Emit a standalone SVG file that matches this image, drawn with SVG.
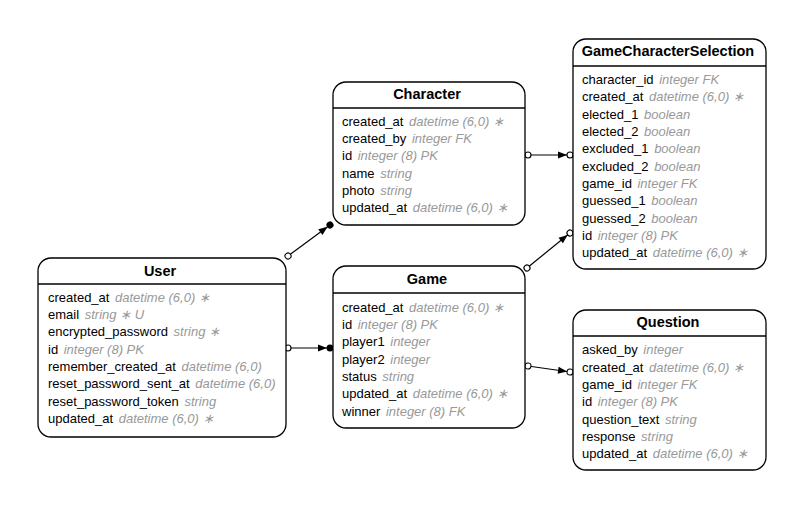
<svg xmlns="http://www.w3.org/2000/svg" width="803" height="510" viewBox="0 0 803 510">
<style>
.box{fill:#fff;stroke:#000;stroke-width:1.3}
.hl{stroke:#000;stroke-width:1.3}
.t{font-family:"Liberation Sans",Arial,sans-serif;font-size:14.5px;font-weight:bold;text-anchor:middle;fill:#000}
.r{font-family:"Liberation Sans",Arial,sans-serif;font-size:13px;fill:#000}
.g{fill:#999;font-style:italic}
.c{fill:none;stroke:#000;stroke-width:1.2}
</style>
<defs>
<marker id="oc" markerUnits="userSpaceOnUse" viewBox="-5 -5 10 10" markerWidth="10" markerHeight="10" refX="0" refY="0" orient="auto">
<circle cx="0" cy="0" r="3" fill="#fff" stroke="#000" stroke-width="1.1"/>
</marker>
<marker id="ad" markerUnits="userSpaceOnUse" viewBox="-14 -5 19 10" markerWidth="19" markerHeight="10" refX="0" refY="0" orient="auto">
<path d="M-12,-3.5 L-3,0 L-12,3.5 Z" fill="#000"/>
<circle cx="0" cy="0" r="3.5" fill="#000"/>
</marker>
<marker id="ac" markerUnits="userSpaceOnUse" viewBox="-14 -5 19 10" markerWidth="19" markerHeight="10" refX="0" refY="0" orient="auto">
<path d="M-12,-3.5 L-3,0 L-12,3.5 Z" fill="#000"/>
<circle cx="0" cy="0" r="3" fill="#fff" stroke="#000" stroke-width="1.1"/>
</marker>
</defs>
<rect width="803" height="510" fill="#fff"/>
<g id="connectors">
<path class="c" d="M288,256 L330,225" marker-start="url(#oc)" marker-end="url(#ad)"/>
<path class="c" d="M288,348 L330,348" marker-start="url(#oc)" marker-end="url(#ad)"/>
<path class="c" d="M528,155 L570,155" marker-start="url(#oc)" marker-end="url(#ac)"/>
<path class="c" d="M527,268 L570,233" marker-start="url(#oc)" marker-end="url(#ac)"/>
<path class="c" d="M528,366 L570,372" marker-start="url(#oc)" marker-end="url(#ac)"/>
</g>
<g id="User">
<rect class="box" x="38" y="258" width="248" height="179" rx="13"/>
<line class="hl" x1="38" y1="284" x2="286" y2="284"/>
<text class="t" x="160" y="276">User</text>
<text class="r" x="48" y="302">created_at <tspan class="g" dx="2">datetime (6,0) ∗</tspan></text>
<text class="r" x="48" y="319">email <tspan class="g" dx="2">string ∗ U</tspan></text>
<text class="r" x="48" y="336">encrypted_password <tspan class="g" dx="2">string ∗</tspan></text>
<text class="r" x="48" y="354">id <tspan class="g" dx="2">integer (8) PK</tspan></text>
<text class="r" x="48" y="371">remember_created_at <tspan class="g" dx="2">datetime (6,0)</tspan></text>
<text class="r" x="48" y="388">reset_password_sent_at <tspan class="g" dx="2">datetime (6,0)</tspan></text>
<text class="r" x="48" y="406">reset_password_token <tspan class="g" dx="2">string</tspan></text>
<text class="r" x="48" y="423">updated_at <tspan class="g" dx="2">datetime (6,0) ∗</tspan></text>
</g>
<g id="Character">
<rect class="box" x="333" y="82" width="192" height="143" rx="13"/>
<line class="hl" x1="333" y1="108" x2="525" y2="108"/>
<text class="t" x="427" y="99">Character</text>
<text class="r" x="342" y="126">created_at <tspan class="g" dx="2">datetime (6,0) ∗</tspan></text>
<text class="r" x="342" y="143">created_by <tspan class="g" dx="2">integer FK</tspan></text>
<text class="r" x="342" y="160">id <tspan class="g" dx="2">integer (8) PK</tspan></text>
<text class="r" x="342" y="178">name <tspan class="g" dx="2">string</tspan></text>
<text class="r" x="342" y="195">photo <tspan class="g" dx="2">string</tspan></text>
<text class="r" x="342" y="212">updated_at <tspan class="g" dx="2">datetime (6,0) ∗</tspan></text>
</g>
<g id="Game">
<rect class="box" x="333" y="266" width="192" height="162" rx="13"/>
<line class="hl" x1="333" y1="293" x2="525" y2="293"/>
<text class="t" x="427" y="284">Game</text>
<text class="r" x="342" y="312">created_at <tspan class="g" dx="2">datetime (6,0) ∗</tspan></text>
<text class="r" x="342" y="329">id <tspan class="g" dx="2">integer (8) PK</tspan></text>
<text class="r" x="342" y="346">player1 <tspan class="g" dx="2">integer</tspan></text>
<text class="r" x="342" y="364">player2 <tspan class="g" dx="2">integer</tspan></text>
<text class="r" x="342" y="381">status <tspan class="g" dx="2">string</tspan></text>
<text class="r" x="342" y="398">updated_at <tspan class="g" dx="2">datetime (6,0) ∗</tspan></text>
<text class="r" x="342" y="416">winner <tspan class="g" dx="2">integer (8) FK</tspan></text>
</g>
<g id="GameCharacterSelection">
<rect class="box" x="573" y="39" width="193" height="230" rx="13"/>
<line class="hl" x1="573" y1="66" x2="766" y2="66"/>
<text class="t" x="668" y="56">GameCharacterSelection</text>
<text class="r" x="582" y="84">character_id <tspan class="g" dx="2">integer FK</tspan></text>
<text class="r" x="582" y="101">created_at <tspan class="g" dx="2">datetime (6,0) ∗</tspan></text>
<text class="r" x="582" y="119">elected_1 <tspan class="g" dx="2">boolean</tspan></text>
<text class="r" x="582" y="136">elected_2 <tspan class="g" dx="2">boolean</tspan></text>
<text class="r" x="582" y="153">excluded_1 <tspan class="g" dx="2">boolean</tspan></text>
<text class="r" x="582" y="171">excluded_2 <tspan class="g" dx="2">boolean</tspan></text>
<text class="r" x="582" y="188">game_id <tspan class="g" dx="2">integer FK</tspan></text>
<text class="r" x="582" y="205">guessed_1 <tspan class="g" dx="2">boolean</tspan></text>
<text class="r" x="582" y="223">guessed_2 <tspan class="g" dx="2">boolean</tspan></text>
<text class="r" x="582" y="240">id <tspan class="g" dx="2">integer (8) PK</tspan></text>
<text class="r" x="582" y="257">updated_at <tspan class="g" dx="2">datetime (6,0) ∗</tspan></text>
</g>
<g id="Question">
<rect class="box" x="573" y="310" width="193" height="160" rx="13"/>
<line class="hl" x1="573" y1="336" x2="766" y2="336"/>
<text class="t" x="668" y="327">Question</text>
<text class="r" x="582" y="354">asked_by <tspan class="g" dx="2">integer</tspan></text>
<text class="r" x="582" y="372">created_at <tspan class="g" dx="2">datetime (6,0) ∗</tspan></text>
<text class="r" x="582" y="389">game_id <tspan class="g" dx="2">integer FK</tspan></text>
<text class="r" x="582" y="406">id <tspan class="g" dx="2">integer (8) PK</tspan></text>
<text class="r" x="582" y="424">question_text <tspan class="g" dx="2">string</tspan></text>
<text class="r" x="582" y="441">response <tspan class="g" dx="2">string</tspan></text>
<text class="r" x="582" y="458">updated_at <tspan class="g" dx="2">datetime (6,0) ∗</tspan></text>
</g>
</svg>
